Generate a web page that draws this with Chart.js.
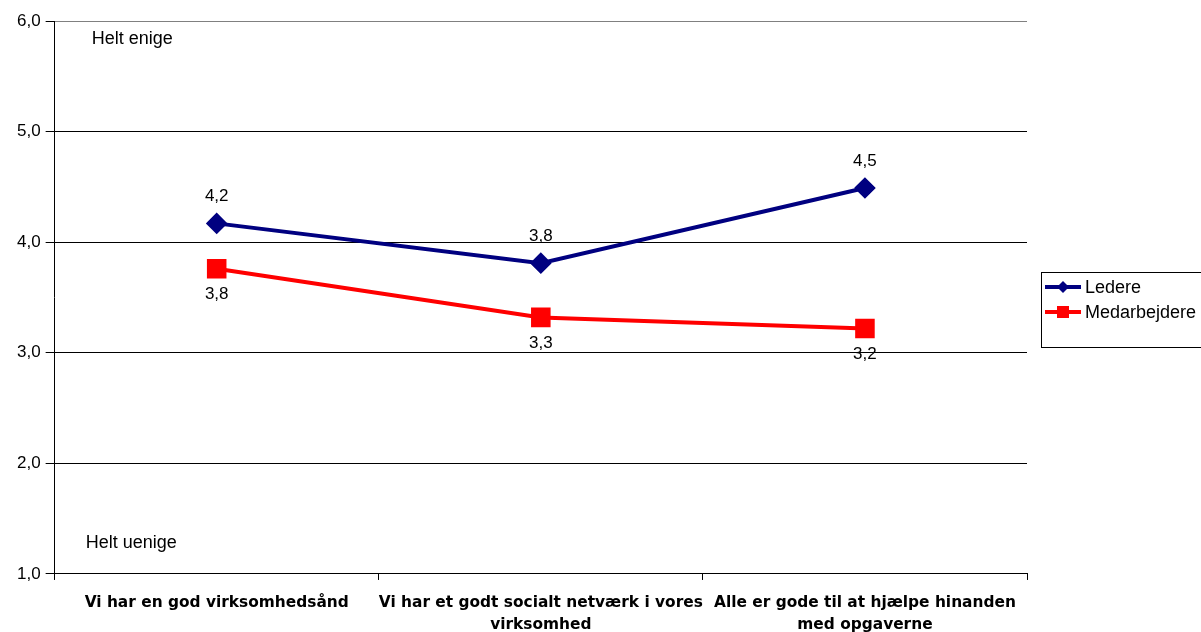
<!DOCTYPE html>
<html>
<head>
<meta charset="utf-8">
<script src="https://cdn.jsdelivr.net/npm/chart.js@4/dist/chart.umd.min.js"></script>
<style>
  body { margin: 0; background: #fff; }
  #wrap { position: relative; width: 1201px; height: 632px; overflow: hidden; }
</style>
</head>
<body>
<div id="wrap"><canvas id="grafico" width="1201" height="632"></canvas></div>
<script>
// Data
const kategorier = [
  "Vi har en god virksomhedsånd",
  ["Vi har et godt socialt netværk i vores", "virksomhed"],
  ["Alle er gode til at hjælpe hinanden", "med opgaverne"]
];
const ledere = [4.17, 3.81, 4.49];
const medarbejdere = [3.76, 3.32, 3.22];
const serieNavne = ["Ledere", "Medarbejdere"];
const yTicks = [1, 2, 3, 4, 5, 6];

const fmt = v => v.toFixed(1).replace('.', ',');
const arial = '"Liberation Sans", Arial, sans-serif';

// Labels over/under punkterne + "Helt enige"/"Helt uenige"
const tekstPlugin = {
  id: 'tekst',
  afterDatasetsDraw(c) {
    const ctx = c.ctx;
    ctx.save();
    ctx.font = '17px ' + arial;
    ctx.fillStyle = '#000';
    ctx.textAlign = 'center';
    ctx.textBaseline = 'middle';
    c.data.datasets.forEach((ds, i) => {
      c.getDatasetMeta(i).data.forEach((p, j) => {
        const dy = i === 0 ? -27 : 26;
        ctx.fillText(fmt(ds.data[j]), p.x, p.y + dy);
      });
    });
    const a = c.chartArea;
    ctx.textAlign = 'left';
    ctx.font = '18px ' + arial;
    ctx.fillText('Helt enige', a.left + 37, c.scales.y.getPixelForValue(5.84));
    ctx.fillText('Helt uenige', a.left + 31, c.scales.y.getPixelForValue(1.28));
    ctx.restore();
  }
};

// Egen legend i boks til højre
const legendPlugin = {
  id: 'egenLegend',
  afterDraw(c) {
    const ctx = c.ctx;
    const x = 1041, y = 272, w = 165, h = 75;
    ctx.save();
    ctx.strokeStyle = '#000';
    ctx.lineWidth = 1;
    ctx.strokeRect(x + 0.5, y + 0.5, w, h);
    ctx.font = '18px ' + arial;
    ctx.textBaseline = 'middle';
    c.data.datasets.forEach((ds, i) => {
      const ly = y + 15 + i * 25;
      ctx.strokeStyle = ds.borderColor;
      ctx.lineWidth = 4;
      ctx.beginPath();
      ctx.moveTo(x + 4, ly);
      ctx.lineTo(x + 40, ly);
      ctx.stroke();
      ctx.fillStyle = ds.borderColor;
      if (i === 0) {
        ctx.beginPath();
        ctx.moveTo(x + 22, ly - 6);
        ctx.lineTo(x + 28, ly);
        ctx.lineTo(x + 22, ly + 6);
        ctx.lineTo(x + 16, ly);
        ctx.closePath();
        ctx.fill();
      } else {
        ctx.fillRect(x + 16, ly - 6, 12, 12);
      }
      ctx.fillStyle = '#000';
      ctx.fillText(ds.label, x + 44, ly + 1);
    });
    ctx.restore();
  }
};

new Chart(document.getElementById('grafico'), {
  type: 'line',
  data: {
    labels: kategorier,
    datasets: [
      {
        label: serieNavne[0], data: ledere,
        borderColor: '#000080', backgroundColor: '#000080',
        borderWidth: 4, pointStyle: 'rectRot', pointRadius: 8, pointHoverRadius: 8
      },
      {
        label: serieNavne[1], data: medarbejdere,
        borderColor: '#ff0000', backgroundColor: '#ff0000',
        borderWidth: 4, pointStyle: 'rect', pointRadius: 11, pointHoverRadius: 11
      }
    ]
  },
  options: {
    responsive: false,
    animation: false,
    layout: { padding: { left: 12, right: 174, top: 21, bottom: -16 } },
    plugins: { legend: { display: false }, tooltip: { enabled: false } },
    scales: {
      x: {
        offset: true,
        grid: {
          offset: true,
          drawOnChartArea: true,
          color: ctx => ctx.index === kategorier.length ? '#808080' : 'rgba(0,0,0,0)',
          tickColor: '#000',
          tickLength: 6
        },
        border: { color: '#000', width: 1 },
        ticks: {
          color: '#000',
          maxRotation: 0,
          autoSkip: false,
          padding: 12,
          font: { family: '"DejaVu Sans", Verdana, sans-serif', size: 15.4, weight: 'bold', lineHeight: 1.43 }
        }
      },
      y: {
        min: 1, max: 6,
        afterBuildTicks: s => { s.ticks = yTicks.map(v => ({ value: v })); },
        grid: {
          color: ctx => ctx.tick && ctx.tick.value === 6 ? '#808080' : '#000',
          tickColor: '#000',
          tickLength: 9
        },
        border: { color: '#000', width: 1 },
        ticks: {
          color: '#000',
          padding: 5,
          callback: v => fmt(v),
          font: { family: arial, size: 17 }
        }
      }
    }
  },
  plugins: [tekstPlugin, legendPlugin]
});
</script>
</body>
</html>
